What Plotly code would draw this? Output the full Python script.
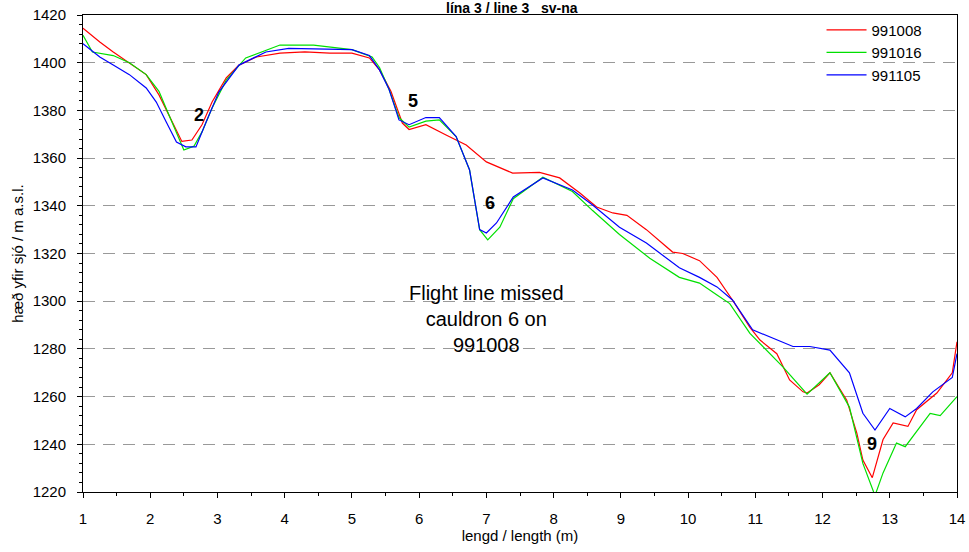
import plotly.graph_objects as go

# 991008 (red)
x_991008 = [1.0, 1.25, 1.45, 1.69, 1.94, 2.13, 2.33, 2.47, 2.62, 2.77, 2.92, 3.13, 3.32, 3.58, 3.93, 4.3, 4.67, 5.0, 5.26, 5.41, 5.58, 5.75, 5.85, 6.1, 6.4, 6.7, 7.0, 7.39, 7.79, 8.09, 8.39, 8.64, 8.88, 9.09, 9.38, 9.77, 9.92, 10.17, 10.43, 10.66, 10.92, 11.07, 11.32, 11.51, 11.71, 11.77, 11.95, 12.11, 12.36, 12.51, 12.6, 12.74, 12.9, 13.05, 13.27, 13.4, 13.7, 13.93, 14.0]
y_991008 = [1414.5, 1408.7, 1404.5, 1400, 1395, 1386.5, 1375, 1367, 1367.6, 1374, 1383.5, 1393.6, 1399, 1402.4, 1404, 1404.5, 1404, 1404, 1402, 1397, 1388, 1374.7, 1372, 1374, 1369.7, 1365.5, 1358.4, 1353.7, 1354, 1351.7, 1345.4, 1339.5, 1337, 1336, 1330, 1320.6, 1320, 1317, 1310, 1300.5, 1289, 1283.7, 1278, 1267, 1262, 1261.5, 1265, 1270, 1258.5, 1244.7, 1233.4, 1226, 1242, 1249, 1247.5, 1254.5, 1261.5, 1270, 1283]

# 991016 (green)
x_991016 = [1.0, 1.14, 1.45, 1.69, 1.94, 2.13, 2.28, 2.43, 2.5, 2.65, 2.77, 2.92, 3.13, 3.42, 3.93, 4.43, 5.0, 5.3, 5.41, 5.55, 5.7, 5.85, 6.1, 6.3, 6.55, 6.75, 6.9, 7.02, 7.2, 7.4, 7.84, 8.28, 8.58, 8.98, 9.43, 9.87, 10.17, 10.43, 10.62, 10.92, 11.41, 11.77, 12.11, 12.4, 12.6, 12.78, 12.9, 13.1, 13.23, 13.6, 13.75, 14.0]
y_991016 = [1411.5, 1404.5, 1403, 1400, 1395, 1388, 1378, 1368.4, 1363.4, 1365, 1371, 1381, 1392.7, 1402, 1407.4, 1407.4, 1405.5, 1402.4, 1398, 1389, 1377, 1373, 1375.5, 1376, 1369, 1355, 1330, 1325.7, 1331, 1343, 1352, 1346, 1338, 1328, 1318, 1310, 1307.6, 1302.6, 1299, 1286.5, 1272.5, 1261, 1270, 1255.6, 1232, 1218.5, 1228, 1240.5, 1239, 1253, 1252, 1260]

# 991105 (blue)
x_991105 = [1.0, 1.25, 1.45, 1.69, 1.94, 2.09, 2.24, 2.39, 2.53, 2.68, 2.83, 3.02, 3.32, 3.72, 4.06, 4.67, 5.0, 5.26, 5.41, 5.55, 5.7, 5.85, 6.1, 6.3, 6.55, 6.75, 6.9, 7.0, 7.15, 7.4, 7.84, 8.28, 8.58, 8.98, 9.38, 9.87, 10.17, 10.43, 10.66, 10.96, 11.41, 11.56, 11.81, 12.11, 12.4, 12.6, 12.78, 13.0, 13.23, 13.4, 13.64, 13.93, 14.0]
y_991105 = [1408, 1402.4, 1399, 1395, 1389.4, 1383.5, 1375, 1366.7, 1364.7, 1364.7, 1375, 1387.7, 1399, 1404.5, 1406, 1405.6, 1405.5, 1403, 1397, 1389, 1376, 1374, 1377, 1377, 1369, 1355, 1330, 1328.6, 1332.8, 1343.7, 1351.7, 1346.6, 1340.3, 1331, 1324.4, 1314, 1310, 1306, 1300.5, 1288, 1282.5, 1281, 1281, 1279.5, 1270, 1253, 1246, 1255, 1251.5, 1255, 1262, 1268, 1278]

labels = ["2", "5", "6", "9"]
label_x = [2.73, 5.91, 7.05, 12.73]
label_y = [1378, 1384, 1341, 1240]

note_text = "Flight line missed<br>cauldron 6 on<br>991008"
title_text = "lína 3 / line 3   sv-na"

FONT = "Arial, Liberation Sans, sans-serif"

fig = go.Figure()
for name, xs, ys, col in [("991008", x_991008, y_991008, "#ff0000"),
                          ("991016", x_991016, y_991016, "#00e000"),
                          ("991105", x_991105, y_991105, "#0000ff")]:
    fig.add_trace(go.Scatter(x=xs, y=ys, mode="lines", name=name,
                             line=dict(color=col, width=1.2)))

for t, xx, yy in zip(labels, label_x, label_y):
    fig.add_annotation(x=xx, y=yy, text="<b>%s</b>" % t, showarrow=False,
                       font=dict(family=FONT, size=18, color="black"))

fig.add_annotation(x=7.0, y=1292.7, text=note_text, showarrow=False,
                   font=dict(family=FONT, size=20, color="black"))

# chart title (sits in the thin strip above the plot frame)
fig.add_annotation(xref="paper", yref="paper", x=0.491, y=1.0314, yanchor="top",
                   text="<b>%s</b>" % title_text, showarrow=False,
                   borderpad=0, yshift=1,
                   font=dict(family=FONT, size=14, color="black"))

# white panel behind the legend entries (hides the grid there, as in the original)
fig.add_shape(type="rect", xref="paper", yref="paper", layer="between",
              x0=0.86, x1=0.967, y0=0.855, y1=0.995,
              fillcolor="white", line=dict(width=0))

fig.update_layout(
    width=969, height=552,
    margin=dict(l=83, r=12, t=15, b=60, autoexpand=False),
    paper_bgcolor="white", plot_bgcolor="white",
    font=dict(family=FONT, size=15, color="black"),
    legend=dict(x=0.845, y=1.003, xanchor="left", yanchor="top",
                bgcolor="rgba(255,255,255,0)", font=dict(size=15),
                tracegroupgap=0, itemwidth=40),
    showlegend=True,
)
fig.update_xaxes(range=[1, 14], dtick=1, tick0=1, showgrid=False,
                 showline=True, linecolor="black", linewidth=1, mirror=True,
                 ticks="outside", ticklen=5, tickcolor="black", ticklabelstandoff=8,
                 minor=dict(dtick=0.5, ticks="outside", ticklen=3, tickcolor="black"),
                 title=dict(text="lengd / length (m)", font=dict(size=15), standoff=3),
                 zeroline=False)
fig.update_yaxes(range=[1220, 1420], dtick=20, showgrid=True,
                 gridcolor="#999999", griddash="12px,8px", gridwidth=1,
                 showline=True, linecolor="black", linewidth=1, mirror=True,
                 ticks="outside", ticklen=5, tickcolor="black", ticklabelstandoff=8,
                 minor=dict(dtick=4, ticks="outside", ticklen=3, tickcolor="black", showgrid=False),
                 title=dict(text="hæð yfir sjó / m a.s.l.", font=dict(size=15), standoff=5),
                 zeroline=False)

fig.write_html("out.html")
